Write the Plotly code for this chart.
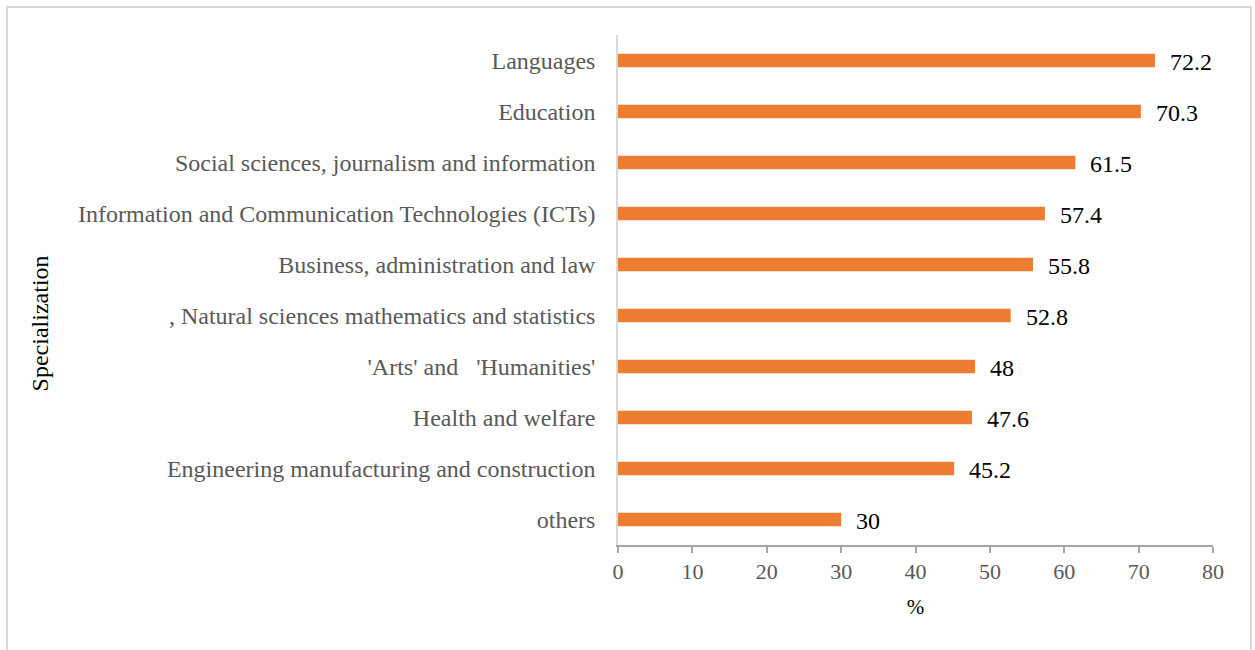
import plotly.graph_objects as go

# Share of respondents by field of specialization (%)
categories = [
    "Languages",
    "Education",
    "Social sciences, journalism and information",
    "Information and Communication Technologies (ICTs)",
    "Business, administration and law",
    ", Natural sciences mathematics and statistics",
    "'Arts' and \u00a0\u00a0'Humanities'",
    "Health and welfare",
    "Engineering manufacturing and construction",
    "others",
]
values = [72.2, 70.3, 61.5, 57.4, 55.8, 52.8, 48, 47.6, 45.2, 30]
x_ticks = [0, 10, 20, 30, 40, 50, 60, 70, 80]

serif = "Liberation Serif, Times New Roman, serif"

fig = go.Figure(
    go.Bar(
        x=values,
        y=categories,
        orientation="h",
        marker=dict(color="#ED7D31", line=dict(width=0)),
        width=0.26,
        hoverinfo="x+y",
    )
)

# value labels to the right of each bar
for cat, val in zip(categories, values):
    fig.add_annotation(
        x=val, y=cat, text=f"{val:g}", showarrow=False,
        xanchor="left", yanchor="middle", xshift=13, yshift=-1,
        font=dict(family=serif, size=24, color="#000000"),
    )

fig.update_layout(
    width=1255, height=650,
    margin=dict(l=618, r=42, t=35, b=105),
    paper_bgcolor="white", plot_bgcolor="white",
    showlegend=False,
    font=dict(family=serif),
    xaxis=dict(
        range=[0, 80], tickvals=x_ticks, ticktext=[str(t) for t in x_ticks],
        showgrid=False, zeroline=False,
        showline=True, linecolor="#A6A6A6", linewidth=1.5,
        ticks="outside", ticklen=6, tickcolor="#A6A6A6", tickwidth=1.5,
        tickfont=dict(family=serif, size=22, color="#595959"),
        title=dict(text="%", font=dict(family=serif, size=21, color="#000000"), standoff=16),
    ),
    yaxis=dict(
        categoryorder="array", categoryarray=categories[::-1],
        showgrid=False, zeroline=False,
        showline=True, linecolor="#D9D9D9", linewidth=1.5,
        ticks="", ticklabelstandoff=16,
        tickfont=dict(family=serif, size=24, color="#595959"),
    ),
)

# vertical axis title placed at the far left
fig.add_annotation(
    x=-0.971, y=0.435, xref="paper", yref="paper", text="Specialization",
    textangle=-90, showarrow=False, xanchor="center", yanchor="middle",
    font=dict(family=serif, size=24, color="#000000"),
)

# light frame around the chart
fig.add_shape(
    type="rect", xref="paper", yref="paper",
    x0=-1.027, x1=1.0639, y0=-0.3, y1=1.0549,
    line=dict(color="#D9D9D9", width=2), fillcolor="rgba(0,0,0,0)", layer="below",
)

fig.write_html("out.html")
